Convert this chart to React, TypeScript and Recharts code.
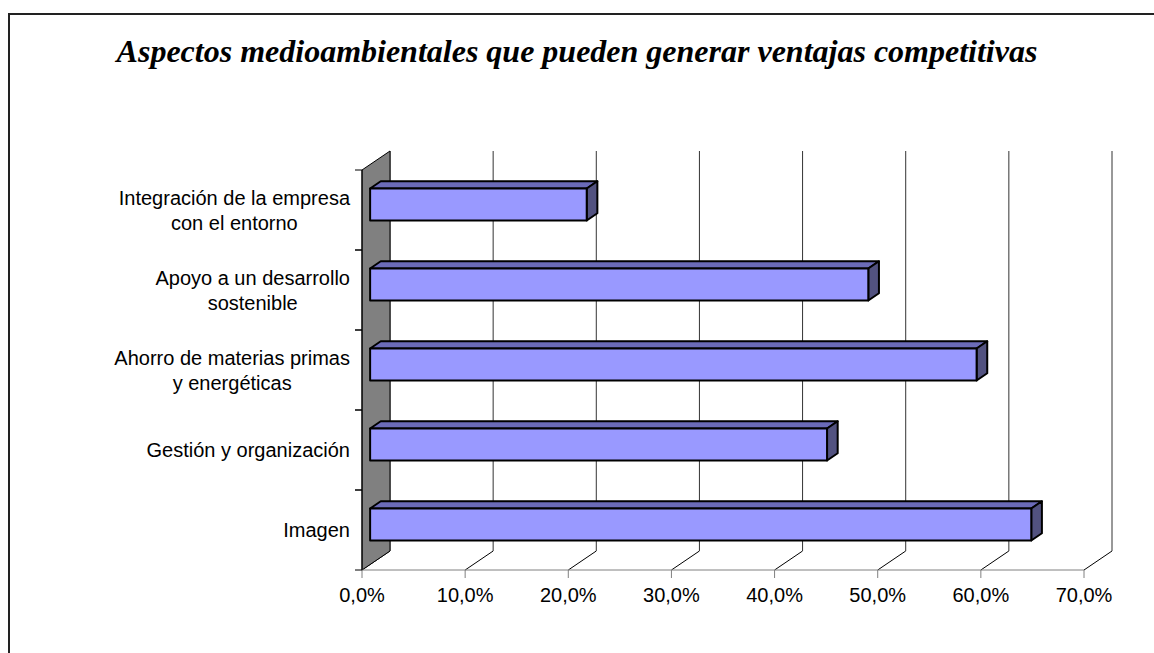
import React from 'react';
import { BarChart, Bar, XAxis, YAxis, CartesianGrid } from 'recharts';

const title = 'Aspectos medioambientales que pueden generar ventajas competitivas';
const categories = [
  'Integración de la empresa\ncon el entorno',
  'Apoyo a un desarrollo\nsostenible',
  'Ahorro de materias primas\ny energéticas',
  'Gestión y organización',
  'Imagen',
];
const values = [0.21, 0.483, 0.588, 0.443, 0.641];
const xTicks = [0, 0.1, 0.2, 0.3, 0.4, 0.5, 0.6, 0.7];

const data = categories.map((name, i) => ({ name, value: values[i] }));

const W = 1154;
const H = 653;
const MARGIN = { top: 170, right: 70, bottom: 43, left: 12 };
const PLOT_H = H - MARGIN.top - MARGIN.bottom - 40;
// depth of the fake 3D walls, and where the bars sit inside it
const DX = 28;
const DY = 19;
const FRONT = 0.29;
const BACK = 0.67;
const FONT = '"Liberation Sans", Arial, sans-serif';

let ctx: CanvasRenderingContext2D | null = null;
function textWidth(s: string) {
  if (!ctx) ctx = document.createElement('canvas').getContext('2d');
  if (!ctx) return s.length * 10;
  ctx.font = `20px ${FONT}`;
  return ctx.measureText(s).width;
}

const fmtPct = (v: number) => (v * 100).toFixed(1).replace('.', ',') + '%';

function Box3D(props: any) {
  const { x, y, width, height } = props;
  if (width == null || width <= 0) return null;
  const fx = x + DX * FRONT;
  const fy = y - DY * FRONT;
  const dx = DX * (BACK - FRONT);
  const dy = DY * (BACK - FRONT);
  const r = fx + width;
  return (
    <g stroke="#000" strokeWidth={2} strokeLinejoin="round">
      <polygon points={`${fx},${fy} ${fx + dx},${fy - dy} ${r + dx},${fy - dy} ${r},${fy}`} fill="#6B6BB8" />
      <polygon points={`${r},${fy} ${r + dx},${fy - dy} ${r + dx},${fy + height - dy} ${r},${fy + height}`} fill="#525280" />
      <rect x={fx} y={fy} width={width} height={height} fill="#9999FF" />
    </g>
  );
}

function GridLine(p: any) {
  const x = p.x1;
  const top = Math.min(p.y1, p.y2);
  const bottom = Math.max(p.y1, p.y2);
  const first = p.index === 0 || (p.x != null && Math.abs(x - p.x) < 0.5);
  return (
    <g key={p.key}>
      <line x1={x} y1={bottom} x2={x + DX} y2={bottom - DY} stroke="#000" strokeWidth={1} />
      <line x1={x + DX} y1={bottom - DY} x2={x + DX} y2={top - DY} stroke="#333" strokeWidth={1} />
      {first && (
        <polygon
          points={`${x},${top} ${x + DX},${top - DY} ${x + DX},${bottom - DY} ${x},${bottom}`}
          fill="#808080"
          stroke="#000"
          strokeWidth={1}
        />
      )}
    </g>
  );
}

function CatTick(props: any) {
  const { x, y, payload, visibleTicksCount } = props;
  const lines = String(payload.value).split('\n');
  const axisX = x + 12;
  const band = PLOT_H / (visibleTicksCount || categories.length);
  const maxW = Math.max(...lines.map(textWidth));
  const cx = x - maxW / 2;
  const base = y + 7 - ((lines.length - 1) * 25) / 2;
  return (
    <g>
      <line x1={axisX - 7} x2={axisX} y1={y - band / 2} y2={y - band / 2} stroke="#000" />
      <line x1={axisX - 7} x2={axisX} y1={y + band / 2} y2={y + band / 2} stroke="#000" />
      {lines.map((l, i) => (
        <text key={i} x={cx} y={base + i * 25} textAnchor="middle" fontSize={20} fontFamily={FONT} fill="#000">
          {l}
        </text>
      ))}
    </g>
  );
}

function ValTick(props: any) {
  const { x, y, payload } = props;
  return (
    <text x={x} y={y + 24} textAnchor="middle" fontSize={20} fontFamily={FONT} fill="#000">
      {fmtPct(payload.value)}
    </text>
  );
}

export default function App() {
  return (
    <div style={{ position: 'fixed', left: 0, top: 0, width: W, height: H, overflow: 'hidden', background: '#fff' }}>
      <svg width={W} height={H} style={{ position: 'absolute', left: 0, top: 0 }}>
        <rect x={9} y={14} width={1300} height={800} fill="none" stroke="#222" strokeWidth={2} />
        <text
          x={577}
          y={62}
          textAnchor="middle"
          fontFamily='"Liberation Serif", "Times New Roman", serif'
          fontStyle="italic"
          fontWeight="bold"
          fontSize={32}
          fill="#000"
        >
          {title}
        </text>
      </svg>
      <div style={{ position: 'absolute', left: 0, top: 0 }}>
        <BarChart width={W} height={H} data={data} layout="vertical" margin={MARGIN} barSize={32}>
          <CartesianGrid horizontal={false} vertical={GridLine} stroke="#404040" />
          <XAxis
            type="number"
            domain={[0, 0.7]}
            ticks={xTicks}
            height={40}
            tickSize={8}
            tickMargin={0}
            axisLine={{ stroke: '#808080' }}
            tickLine={{ stroke: '#808080' }}
            tick={ValTick}
            interval={0}
          />
          <YAxis
            type="category"
            dataKey="name"
            width={350}
            tickSize={7}
            tickMargin={5}
            tickLine={false}
            axisLine={{ stroke: '#000' }}
            tick={CatTick}
            interval={0}
          />
          <Bar dataKey="value" shape={Box3D} isAnimationActive={false} />
        </BarChart>
      </div>
    </div>
  );
}
